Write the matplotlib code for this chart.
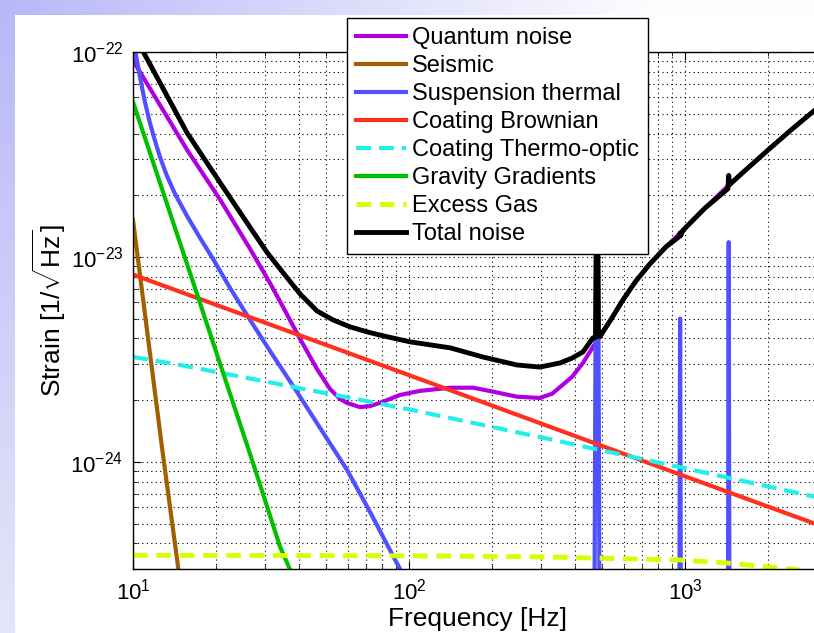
import numpy as np
import matplotlib
matplotlib.use('Agg')
import matplotlib.pyplot as plt

plt.rcParams['font.family'] = ['Liberation Sans', 'DejaVu Sans']
plt.rcParams['mathtext.fontset'] = 'custom'
plt.rcParams['mathtext.rm'] = 'Liberation Sans'
plt.rcParams['mathtext.it'] = 'Liberation Sans:italic'
plt.rcParams['mathtext.bf'] = 'Liberation Sans:bold'
plt.rcParams['axes.unicode_minus'] = False

# значения (частота в Гц, шум в 1/sqrt(Гц))
f_quantum = [10, 15.7, 20.7, 26.5, 31.4, 35.0, 40.3, 46.4, 51.7, 56.2, 59.6, 66.4, 72.2, 78.5, 92.7, 109.6, 141, 171, 205, 246, 298, 330, 353, 390, 427, 464, 492,
             535, 596, 664, 746, 853, 984, 1181, 1419, 1583, 1982, 2400, 2931, 3213]
s_quantum = [9.1e-23, 3.33e-23, 1.90e-23, 1.10e-23, 7.43e-24, 5.68e-24, 3.98e-24, 2.84e-24, 2.27e-24, 2.03e-24, 1.94e-24, 1.85e-24, 1.87e-24, 1.94e-24, 2.12e-24, 2.22e-24, 2.30e-24, 2.30e-24, 2.19e-24, 2.08e-24, 2.05e-24, 2.15e-24, 2.32e-24, 2.60e-24, 3.04e-24, 3.64e-24, 4.07e-24,
             4.87e-24, 6.17e-24, 7.63e-24, 9.24e-24, 1.12e-23, 1.35e-23, 1.73e-23, 2.20e-23, 2.51e-23, 3.29e-23, 4.12e-23, 5.16e-23, 5.70e-23]

f_seismic = [10, 12.7, 14.6, 14.9]
s_seismic = [1.51e-23, 1.21e-24, 3.0e-25, 2.4e-25]

f_susp = [10, 10.17, 10.60, 11.05, 11.52, 12.02, 12.53, 13.28, 14.20, 15.69, 17.49, 19.50, 22.46, 26.54, 31.88, 38.64, 47.60, 59.63, 72.24, 87.50, 92.77, 100.8, 200,
          466, 474, 480, 486, 494,
          950, 957, 960, 963, 970,
          1425, 1436, 1440, 1444, 1455, 3200]
s_susp = [1.144e-22, 1.023e-22, 7.55e-23, 5.70e-23, 4.50e-23, 3.68e-23, 3.07e-23, 2.48e-23, 2.03e-23, 1.585e-23, 1.238e-23, 9.78e-24, 7.06e-24, 4.93e-24, 3.36e-24, 2.27e-24, 1.465e-24, 9.14e-25, 5.70e-25, 3.48e-25, 3.0e-25, 2.4e-25, 5e-26,
          1e-26, 4e-24, 5e-23, 4e-24, 1e-26,
          1e-26, 1e-24, 5e-24, 1e-24, 1e-26,
          1e-26, 1.5e-24, 1.18e-23, 1.5e-24, 1e-26, 1e-26]

f_brown = [10, 100, 1000, 3200]
s_brown = [8.2e-24, 2.65e-24, 8.5e-25, 4.8e-25]

f_thermo = [10, 14.8, 101, 298, 984, 3200]
s_thermo = [3.25e-24, 2.97e-24, 1.8e-24, 1.32e-24, 9.35e-25, 6.6e-25]

f_grav = [10, 16.4, 21.2, 27.2, 34.1, 37.1, 38.6]
s_grav = [5.7e-23, 7.73e-24, 2.72e-24, 9.9e-25, 3.85e-25, 2.97e-25, 2.4e-25]

f_gas = [10, 100, 298, 960, 1420, 2600, 3200]
s_gas = [3.5e-25, 3.48e-25, 3.44e-25, 3.32e-25, 3.21e-25, 2.97e-25, 2.85e-25]

f_total = [10, 10.9, 15.7, 20.7, 26.5, 30.6, 35.0, 40.3, 46.4, 53.0, 61.1, 70.4, 80.5, 101, 141, 185, 246, 298, 353, 390, 427, 464,
           474, 480, 486, 492, 535, 596, 664, 746, 853, 920, 955, 960, 965, 984, 1181, 1430, 1440, 1450, 1583, 1982, 2400, 2931, 3213]
s_total = [1.2e-22, 1e-22, 4.03e-23, 2.30e-23, 1.40e-23, 1.052e-23, 8.36e-24, 6.6e-24, 5.45e-24, 4.93e-24, 4.56e-24, 4.31e-24, 4.12e-24, 3.85e-24, 3.6e-24, 3.25e-24, 2.97e-24, 2.9e-24, 3.04e-24, 3.21e-24, 3.44e-24, 4.03e-24,
           4.05e-24, 5e-23, 4.1e-24, 4.1e-24, 4.87e-24, 6.17e-24, 7.63e-24, 9.24e-24, 1.12e-23, 1.21e-23, 1.26e-23, 1.31e-23, 1.27e-23, 1.35e-23, 1.73e-23, 2.15e-23, 2.5e-23, 2.25e-23, 2.51e-23, 3.29e-23, 4.12e-23, 5.16e-23, 5.70e-23]

x_ticks = [10, 100, 1000]
y_ticks = [1e-24, 1e-23, 1e-22]

W, H = 814, 633
fig = plt.figure(figsize=(W / 100, H / 100), dpi=100)

# фон слайда: сиреневые полосы сверху и слева
img = np.ones((H, W, 3))
c0 = np.array([0.72, 0.72, 0.97])
c_top_end = np.array([0.99, 0.99, 1.0])
c_left_end = np.array([0.90, 0.90, 0.98])
for x in range(W):
    t = min(x / 650, 1)
    img[:15, x] = c0 + (c_top_end - c0) * t
for y in range(H):
    t = y / H
    img[y, :15] = c0 + (c_left_end - c0) * t
bg = fig.add_axes([0, 0, 1, 1], zorder=-10)
bg.imshow(img, aspect='auto', extent=(0, 1, 0, 1))
bg.axis('off')

ax = fig.add_axes([133 / W, 1 - 569 / H, 690 / W, 517 / H])

lw = 3
ax.loglog(f_quantum, s_quantum, color='#B000E0', lw=lw, label='Quantum noise')
ax.loglog(f_seismic, s_seismic, color='#A06000', lw=lw, label='Seismic')
ax.loglog(f_susp, s_susp, color='#5050FF', lw=lw, label='Suspension thermal')
ax.loglog(f_brown, s_brown, color='#FF3020', lw=lw, label='Coating Brownian')
ax.loglog(f_thermo, s_thermo, color='#20F0E8', lw=lw, dashes=(3.6, 1.9), label='Coating Thermo-optic')
ax.loglog(f_grav, s_grav, color='#00C000', lw=lw, label='Gravity Gradients')
ax.loglog(f_gas, s_gas, color='#D8FF00', lw=3.5, dashes=(3.0, 1.8), label='Excess Gas')
ax.loglog(f_total, s_total, color='k', lw=3.5, label='Total noise')

ax.set_xlim(10, 10 ** 3.5)
ax.set_ylim(3e-25, 1e-22)
ax.set_xticks(x_ticks)
ax.set_yticks(y_ticks)

ax.grid(True, which='both', color='k', linestyle=(0, (1, 3)), linewidth=0.8)
ax.tick_params(which='both', direction='in', top=True, right=True, labelsize=16)
ax.tick_params(which='major', length=6, pad=7)
ax.tick_params(which='minor', length=3)
for s in ax.spines.values():
    s.set_linewidth(1)

ax.set_xlabel('Frequency [Hz]', fontsize=19, labelpad=2)
ax.set_ylabel(r'Strain [1/$\sqrt{\mathrm{Hz}}$]', fontsize=19, labelpad=2)

leg = ax.legend(loc='upper left', bbox_to_anchor=(347 / W, 1 - 18 / H),
                bbox_transform=fig.transFigure, fontsize=17, fancybox=False,
                edgecolor='k', framealpha=1, borderaxespad=0, handlelength=2.1,
                handletextpad=0.25, labelspacing=0.25, borderpad=0.4)
leg.get_frame().set_linewidth(1)

fig.savefig('out.png', dpi=100)
